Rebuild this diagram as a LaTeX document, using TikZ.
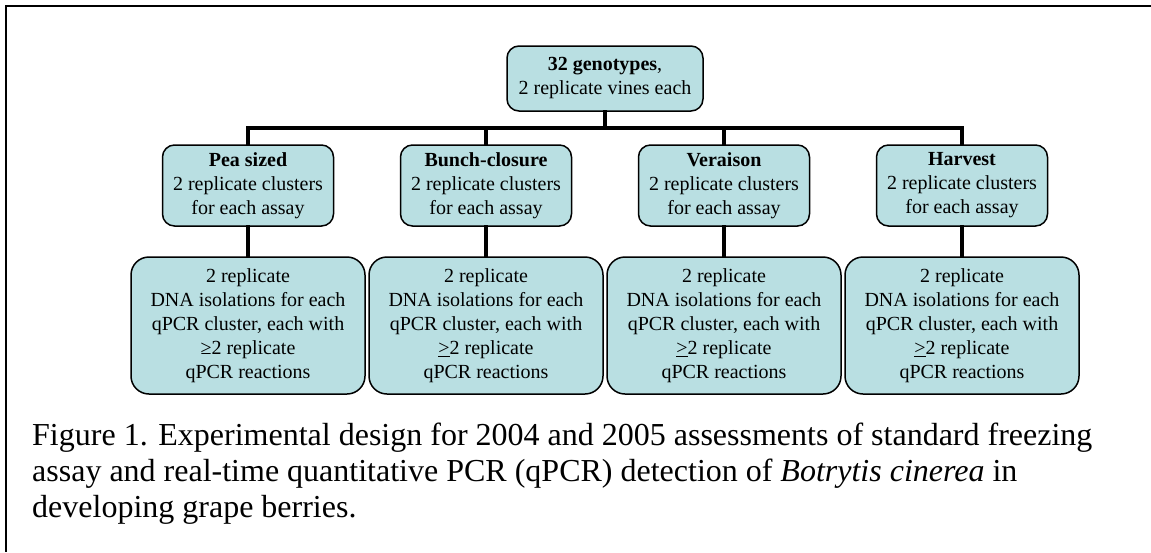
\documentclass[tikz,border=0pt]{standalone}
\usepackage{fontspec}
\setmainfont{Liberation Serif}
\definecolor{boxfill}{HTML}{B9DFE2}
\tikzset{
  boxbase/.style={draw=black, line width=1.5pt, fill=boxfill, align=center, inner sep=0pt,
    font=\fontsize{20}{24}\selectfont},
  topbox/.style={boxbase, rounded corners=12pt, minimum width=196pt, minimum height=65pt},
  stagebox/.style={boxbase, rounded corners=12pt, minimum width=171pt, minimum height=81pt},
  detailbox/.style={boxbase, rounded corners=18pt, minimum width=234pt, minimum height=137pt},
  conn/.style={line width=4pt, line cap=rect},
  frameline/.style={line width=2.5pt},
  captext/.style={anchor=base west, inner sep=0pt, font=\fontsize{32}{36}\selectfont}
}
\begin{document}
\begin{tikzpicture}[x=1pt,y=-1pt]
\useasboundingbox (0,0) rectangle (1151,552);
% frame
\coordinate (fTL) at (6,6);
\coordinate (fTR) at (1151,6);
\coordinate (fBL) at (6,552);
\draw[frameline] (fTR) -- (fTL) -- (fBL);

% bus
\coordinate (busL) at (248,128);
\coordinate (busR) at (962,128);

% top node
\node[topbox] (top) at (605,78.5) {\textbf{32 genotypes},\\2 replicate vines each};

% stage nodes
\node[stagebox] (s1) at (248,185.5) {\textbf{Pea sized}\\2 replicate clusters\\for each assay};
\node[stagebox] (s2) at (486,185.5) {\textbf{Bunch-closure}\\2 replicate clusters\\for each assay};
\node[stagebox] (s3) at (724,185.5) {\textbf{Veraison}\\2 replicate clusters\\for each assay};
\node[stagebox] (s4) at (962,185.5) {\textbf{Harvest}\\2 replicate clusters\\for each assay};

% detail nodes
\node[detailbox] (d1) at (248,325.5) {2 replicate\\DNA isolations for each\\qPCR cluster, each with\\≥2 replicate\\qPCR reactions};
\node[detailbox] (d2) at (486,325.5) {2 replicate\\DNA isolations for each\\qPCR cluster, each with\\\underline{>}2 replicate\\qPCR reactions};
\node[detailbox] (d3) at (724,325.5) {2 replicate\\DNA isolations for each\\qPCR cluster, each with\\\underline{>}2 replicate\\qPCR reactions};
\node[detailbox] (d4) at (962,325.5) {2 replicate\\DNA isolations for each\\qPCR cluster, each with\\\underline{>}2 replicate\\qPCR reactions};

% connectors
\begin{scope}[on background layer/.style={}]
\draw[conn] (top.south) -- (top.south |- busL);
\draw[conn] (busL) -- (busR);
\foreach \i in {1,2,3,4}{
  \draw[conn] (s\i.north |- busL) -- (s\i.north);
  \draw[conn] (s\i.south) -- (d\i.north);
}
\end{scope}

% caption
\node[captext] (cap1) at (32,445) {Figure 1. Experimental design for 2004 and 2005 assessments of standard freezing};
\node[captext] (cap2) at (32,481) {assay and real-time quantitative PCR (qPCR) detection of \textit{Botrytis cinerea} in};
\node[captext] (cap3) at (32,517) {developing grape berries.};
\end{tikzpicture}
\end{document}
